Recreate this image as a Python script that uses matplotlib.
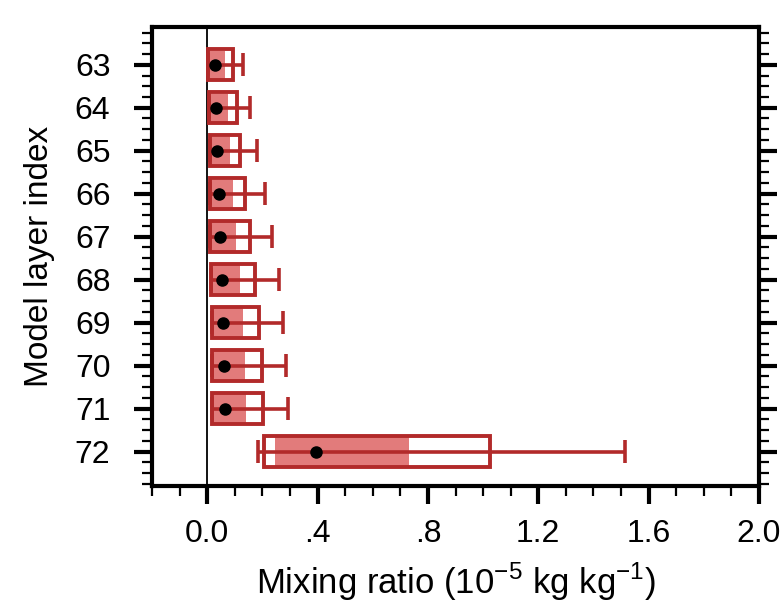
import numpy as np
import matplotlib.pyplot as plt
from matplotlib.ticker import MultipleLocator, FixedLocator

plt.rcParams['font.family'] = ['Liberation Sans', 'DejaVu Sans']

# model layers, top to bottom
layers = [63, 64, 65, 66, 67, 68, 69, 70, 71, 72]

# box outline (low / high edge)
box_lo = [0.003, 0.007, 0.009, 0.010, 0.010, 0.013, 0.016, 0.016, 0.016, 0.204]
box_hi = [0.093, 0.107, 0.119, 0.137, 0.156, 0.174, 0.189, 0.200, 0.202, 1.025]
# shaded part inside the box
fill_lo = [0.008, 0.011, 0.013, 0.014, 0.014, 0.017, 0.020, 0.020, 0.020, 0.244]
fill_hi = [0.063, 0.075, 0.081, 0.092, 0.106, 0.118, 0.128, 0.137, 0.139, 0.733]
# whiskers
whis_lo = [0.003, 0.007, 0.009, 0.010, 0.010, 0.013, 0.016, 0.016, 0.016, 0.184]
whis_hi = [0.131, 0.155, 0.182, 0.208, 0.234, 0.261, 0.274, 0.286, 0.294, 1.516]
# mean (black dot)
means = [0.028, 0.033, 0.037, 0.043, 0.046, 0.052, 0.057, 0.062, 0.063, 0.393]

xticks = [0.0, 0.4, 0.8, 1.2, 1.6, 2.0]
xticklabels = ['0.0', '.4', '.8', '1.2', '1.6', '2.0']

edge = '#b22a2a'
shade = '#e27b7b'

fig = plt.figure(figsize=(7.84, 6.08), dpi=100)
ax = fig.add_axes([0.194, 0.2007, 0.774, 0.755])

y = np.array(layers)
lo = np.array(box_lo)
hi = np.array(box_hi)
flo = np.array(fill_lo)
fhi = np.array(fill_hi)

h = 0.72
ax.axvline(0, color='black', lw=1.3, zorder=1)
ax.barh(y, fhi - flo, left=flo, height=h - 0.06, color=shade, lw=0, zorder=2)
ax.barh(y, hi - lo, left=lo, height=h, facecolor='none', edgecolor=edge,
        lw=2.8, zorder=3)
ax.hlines(y, whis_lo, whis_hi, color=edge, lw=2.6, zorder=4)
ax.vlines(whis_lo, y - 0.27, y + 0.27, color=edge, lw=2.6, zorder=4)
ax.vlines(whis_hi, y - 0.27, y + 0.27, color=edge, lw=2.6, zorder=4)
ax.plot(means, layers, 'o', color='black', ms=8, zorder=5)

ax.set_xlim(-0.2, 2.0)
ax.set_ylim(72.8, 62.12)

ax.set_xticks(xticks)
ax.set_xticklabels(xticklabels)
ax.xaxis.set_minor_locator(MultipleLocator(0.1))
ax.set_yticks(layers)
ax.set_yticklabels([str(v) for v in layers])
ax.yaxis.set_minor_locator(FixedLocator(np.arange(62.25, 72.8, 0.25)))

ax.tick_params(which='both', direction='out', top=False, right=True,
               labelsize=23)
ax.tick_params(which='major', length=13, width=3)
ax.tick_params(which='minor', length=7, width=1.6)
ax.tick_params(axis='x', pad=11)
ax.tick_params(axis='y', pad=17)

for s in ax.spines.values():
    s.set_linewidth(3)

ax.set_xlabel('Mixing ratio (10$^{\\mathregular{-5}}$ kg kg$^{\\mathregular{-1}}$)',
              fontsize=25, labelpad=8)
ax.set_ylabel('Model layer index', fontsize=24, labelpad=14)

fig.savefig('out.png', dpi=100)
